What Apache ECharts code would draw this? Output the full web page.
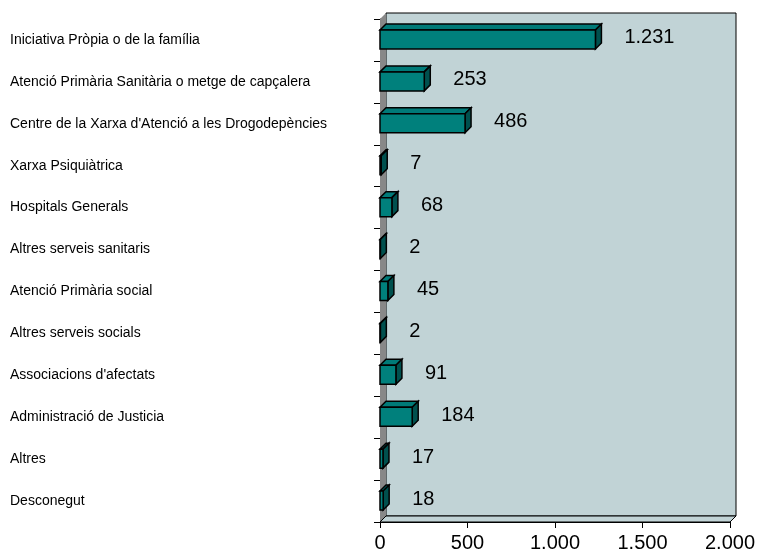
<!DOCTYPE html>
<html>
<head>
<meta charset="utf-8">
<script src="https://cdn.jsdelivr.net/npm/echarts@6/dist/echarts.min.js"></script>
<style>html,body{margin:0;padding:0;background:#fff}#c{width:763px;height:558px}</style>
</head>
<body>
<div id="c"></div>
<script>
const categories = [
  "Iniciativa Pròpia o de la família",
  "Atenció Primària Sanitària o metge de capçalera",
  "Centre de la Xarxa d'Atenció a les Drogodepències",
  "Xarxa Psiquiàtrica",
  "Hospitals Generals",
  "Altres serveis sanitaris",
  "Atenció Primària social",
  "Altres serveis socials",
  "Associacions d'afectats",
  "Administració de Justicia",
  "Altres",
  "Desconegut"
];
const values = [1231, 253, 486, 7, 68, 2, 45, 2, 91, 184, 17, 18];
const xTicks = [0, 500, 1000, 1500, 2000];

function fmt(n) {
  return String(n).replace(/\B(?=(\d{3})+(?!\d))/g, '.');
}

const D = 6; // 3D depth
const chart = echarts.init(document.getElementById('c'), null, {renderer: 'canvas'});

const option = {
  animation: false,
  grid: {left: 380, right: 33, top: 19, bottom: 36, containLabel: false},
  xAxis: {
    type: 'value', min: xTicks[0], max: xTicks[xTicks.length - 1], interval: 500,
    axisLine: {show: true, lineStyle: {color: '#000', width: 1}},
    axisTick: {show: true, length: 6, lineStyle: {color: '#000'}},
    splitLine: {show: false},
    axisLabel: {fontSize: 20, color: '#000', fontFamily: 'Liberation Sans, Arial', margin: 11, formatter: v => fmt(v)}
  },
  yAxis: {
    type: 'category', data: categories, inverse: true,
    axisLine: {show: true, lineStyle: {color: '#000', width: 1}},
    axisTick: {show: true, length: 6, lineStyle: {color: '#000'}},
    axisLabel: {align: 'left', margin: 370, fontSize: 14, color: '#000', fontFamily: 'Liberation Sans, Arial', padding: [0,0,6,0]}
  },
  series: [
    {
      type: 'custom', z: 1, silent: true,
      data: [[0, 0]],
      renderItem: function (params, api) {
        const cs = params.coordSys;
        const x = cs.x, y = cs.y, w = cs.width, h = cs.height;
        return {
          type: 'group', children: [
            {type: 'rect', shape: {x: x + D, y: y - D, width: w, height: h}, style: {fill: '#c1d3d6', stroke: '#000', lineWidth: 1}},
            {type: 'polygon', shape: {points: [[x, y], [x + D, y - D], [x + D, y + h - D], [x, y + h]]}, style: {fill: '#888888', stroke: 'none'}},
            {type: 'polygon', shape: {points: [[x, y + h], [x + D, y + h - D], [x + w + D, y + h - D], [x + w, y + h]]}, style: {fill: '#c1d3d6', stroke: '#000', lineWidth: 1}}
          ]
        };
      }
    },
    {
      type: 'custom', z: 3,
      data: values.map((v, i) => [v, i]),
      encode: {x: 0, y: 1},
      renderItem: function (params, api) {
        const v = api.value(0), c = api.value(1);
        const p0 = api.coord([0, c]);
        const p1 = api.coord([v, c]);
        const x0 = p0[0], x1 = p1[0];
        const y0 = p0[1] - 10, y1 = p0[1] + 9;
        return {
          type: 'group', children: [
            {type: 'polygon', shape: {points: [[x0, y0], [x0 + D, y0 - D], [x1 + D, y0 - D], [x1, y0]]}, style: {fill: '#007a78', stroke: '#000', lineWidth: 1.5}},
            {type: 'polygon', shape: {points: [[x1, y0], [x1 + D, y0 - D], [x1 + D, y1 - D], [x1, y1]]}, style: {fill: '#00504e', stroke: '#000', lineWidth: 1.5}},
            {type: 'rect', shape: {x: x0, y: y0, width: x1 - x0, height: y1 - y0}, style: {fill: '#00807c', stroke: '#000', lineWidth: 1.5}},
            {type: 'text', x: x1 + D + 23, y: p0[1] - 2, style: {text: fmt(v), fill: '#000', fontSize: 20, fontFamily: 'Liberation Sans, Arial', verticalAlign: 'middle', align: 'left'}}
          ]
        };
      }
    }
  ]
};
chart.setOption(option);
</script>
</body>
</html>
